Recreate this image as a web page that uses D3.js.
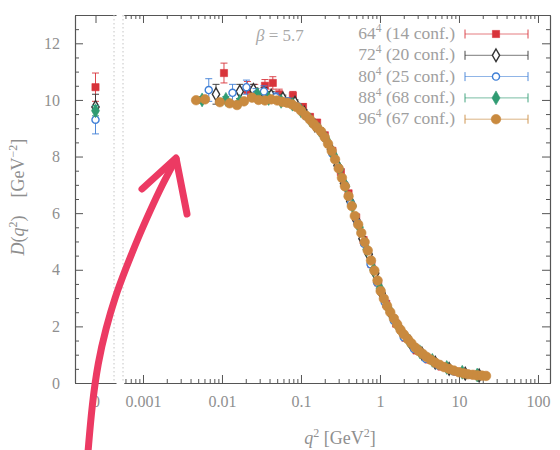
<!DOCTYPE html>
<html><head><meta charset="utf-8">
<script src="https://cdn.jsdelivr.net/npm/d3@7"></script>
<style>body{margin:0;background:#fff}</style>
</head><body><svg id="c" width="560" height="450"></svg>
<script>
// ---------------- data ----------------
const latticeSizes = ["64","72","80","88","96"];
const confCounts   = ["14","20","25","68","67"];

const q2_64  = [0.0106,0.021,0.026,0.035,0.044,0.053,0.079,0.106,0.13,0.16,0.2,0.25,0.32,0.4,0.5,0.62,0.78,0.95,1.2,1.6,2.1,2.9,4.1,6,9.5,15,21];
const D_64   = [10.95,10.35,10.3,10.5,10.6,10.2,10.15,9.75,9.4,9.2,8.75,8.2,7.45,6.7,5.85,5.05,4.2,3.55,2.8,2.1,1.6,1.15,0.83,0.58,0.4,0.29,0.26];
const err_64 = [0.35,0.3,0.25,0.22,0.22,0.18,0.15,0.12,0.1,0.1,0.08,0.08,0.06,0.06,0.05,0.05,0.04,0.04,0.03,0.03,0.02,0.02,0.02,0.01,0.01,0.01,0.01];

const q2_72  = [0.0084,0.0168,0.025,0.034,0.042,0.059,0.084,0.11,0.15,0.19,0.24,0.29,0.35,0.42,0.5,0.6,0.72,0.87,1.05,1.35,1.8,2.4,3.4,5,7.5,12,18];
const D_72   = [10.2,10.3,10.35,10.25,10.15,10.05,9.9,9.55,9.1,8.78,8.25,7.68,7.05,6.42,5.76,5.1,4.55,3.88,3.17,2.5,1.9,1.45,1.04,0.72,0.5,0.33,0.265];
const err_72 = [0.35,0.25,0.2,0.18,0.15,0.12,0.1,0.1,0.08,0.08,0.06,0.06,0.05,0.05,0.04,0.04,0.03,0.03,0.03,0.02,0.02,0.02,0.01,0.01,0.01,0.01,0.01];

const q2_80  = [0.0068,0.0136,0.0204,0.027,0.034,0.048,0.068,0.09,0.12,0.16,0.2,0.25,0.3,0.36,0.43,0.52,0.63,0.76,0.92,1.15,1.5,2.0,2.7,3.8,5.5,8.5,13,19];
const D_80   = [10.35,10.25,10.45,10.2,10.3,10.1,9.95,9.78,9.4,9.05,8.7,8.1,7.6,7.0,6.35,5.65,4.92,4.2,3.55,2.85,2.2,1.62,1.2,0.86,0.62,0.42,0.31,0.26];
const err_80 = [0.4,0.3,0.25,0.2,0.2,0.15,0.12,0.1,0.08,0.08,0.06,0.06,0.05,0.05,0.04,0.04,0.03,0.03,0.03,0.02,0.02,0.02,0.01,0.01,0.01,0.01,0.01,0.01];

const q2_88  = [0.0056,0.0112,0.0168,0.028,0.039,0.056,0.078,0.10,0.13,0.17,0.21,0.26,0.31,0.37,0.45,0.55,0.68,0.83,1.0,1.3,1.7,2.3,3.2,4.6,7,11,17];
const D_88   = [10.0,10.02,9.95,10.2,10.05,9.95,9.85,9.62,9.3,8.95,8.6,8.05,7.55,6.95,6.25,5.5,4.72,4.0,3.35,2.6,2.0,1.5,1.1,0.8,0.55,0.38,0.28];
const err_88 = [0.12,0.1,0.1,0.08,0.08,0.07,0.06,0.05,0.05,0.04,0.04,0.04,0.03,0.03,0.03,0.02,0.02,0.02,0.02,0.02,0.01,0.01,0.01,0.01,0.01,0.01,0.01];

const q2_96  = [0.0047,0.0061,0.0094,0.0125,0.0155,0.019,0.024,0.029,0.035,0.042,0.050,0.058,0.067,0.077,0.088,0.10,0.115,0.13,0.145,0.16,0.18,0.20,0.22,0.245,0.27,0.30,0.33,0.36,0.40,0.44,0.48,0.53,0.58,0.64,0.70,0.77,0.85,0.93,1.02,1.12,1.23,1.35,1.5,1.65,1.82,2.0,2.25,2.5,2.8,3.1,3.5,3.9,4.4,5.0,5.7,6.5,7.5,8.6,10,11.5,13,15,17,19.5,22];
const D_96   = [9.99,10.02,9.92,9.88,9.82,9.95,10.08,10.0,9.98,10.02,9.98,9.93,9.9,9.84,9.75,9.62,9.45,9.3,9.15,9.02,8.88,8.68,8.45,8.2,7.9,7.58,7.25,6.95,6.6,6.25,5.9,5.6,5.3,4.98,4.68,4.33,3.97,3.62,3.25,2.98,2.72,2.5,2.28,2.07,1.88,1.72,1.55,1.4,1.25,1.13,1.02,0.92,0.82,0.72,0.64,0.56,0.5,0.44,0.38,0.34,0.31,0.29,0.27,0.26,0.25];

// zero-momentum values D(0) per lattice (96^4 not shown)
const D0   = [10.45, 9.75, 9.3, 9.62, null];
const D0err = [0.5, 0.45, 0.5, 0.18, null];

const yTicks = [0,2,4,6,8,10,12];
const xTicks = [0.001,0.01,0.1,1,10,100];
const xTickLabels = ["0.001","0.01","0.1","1","10","100"];

// hand-drawn annotation arrow on the photo
const arrowShaft = [[88,452],[92,405],[98,362],[106,328],[115,297],[126,268],[138,238],[150,211],[162,185],[176,159]];
const arrowHead  = [[142,189],[176,158],[187,214]];

// ---------------- drawing ----------------
const svg = d3.select("#c");
const FONT = "'Liberation Serif','DejaVu Serif',serif";
const axisCol = "#555", textCol = "#8f8f8f";

const yTop = 15, yBot = 383;
const y  = d3.scaleLinear().domain([0,13]).range([yBot,yTop]);
const xL = d3.scaleLinear().domain([-1,1]).range([75,116]);
const xM = d3.scaleLog().domain([5.75e-4,142]).range([124,550]);

const colors  = ["#d8333a","#333333","#3f7fd6","#2f9b72","#c98a3f"];
const symbols = [d3.symbolSquare, d3.symbolDiamond, d3.symbolCircle, d3.symbolDiamond, d3.symbolCircle];
const sizes   = [52, 46, 40, 56, 72];
const filled  = [true, false, false, true, true];

function styleAxis(g){
  g.select(".domain").attr("stroke",axisCol).attr("stroke-width",1.1);
  g.selectAll(".tick line").attr("stroke",axisCol).attr("stroke-width",1);
  g.selectAll(".tick text").attr("fill",textCol).attr("font-family",FONT).attr("font-size",16);
}

// main panel axes
const minorX = xM.ticks().filter(d => !xTicks.some(t => Math.abs(t-d)/t < 1e-6));
svg.append("g").attr("transform",`translate(0,${yBot})`)
  .call(d3.axisBottom(xM).tickValues(xTicks).tickFormat((d,i)=>xTickLabels[i]).tickSizeInner(-8).tickSizeOuter(0).tickPadding(13))
  .call(styleAxis);
svg.append("g").attr("transform",`translate(0,${yBot})`)
  .call(d3.axisBottom(xM).tickValues(minorX).tickFormat("").tickSizeInner(-4).tickSizeOuter(0))
  .call(styleAxis);
svg.append("g").attr("transform",`translate(0,${yTop})`)
  .call(d3.axisTop(xM).tickValues(xTicks).tickFormat("").tickSizeInner(-8).tickSizeOuter(0))
  .call(styleAxis);
svg.append("g").attr("transform",`translate(0,${yTop})`)
  .call(d3.axisTop(xM).tickValues(minorX).tickFormat("").tickSizeInner(-4).tickSizeOuter(0))
  .call(styleAxis);

const minorY = d3.range(0,13.01,0.5).filter(v => v%2 !== 0);
svg.append("g").attr("transform",`translate(550,0)`)
  .call(d3.axisRight(y).tickValues(yTicks).tickFormat("").tickSizeInner(-8).tickSizeOuter(0))
  .call(styleAxis);
svg.append("g").attr("transform",`translate(550,0)`)
  .call(d3.axisRight(y).tickValues(minorY).tickFormat("").tickSizeInner(-4).tickSizeOuter(0))
  .call(styleAxis);

// left (q^2 = 0) panel axes
svg.append("g").attr("transform",`translate(0,${yBot})`)
  .call(d3.axisBottom(xL).tickValues([0]).tickFormat(()=>"0").tickSizeInner(-8).tickSizeOuter(0).tickPadding(13))
  .call(styleAxis);
svg.append("g").attr("transform",`translate(0,${yTop})`)
  .call(d3.axisTop(xL).tickValues([0]).tickFormat("").tickSizeInner(-8).tickSizeOuter(0))
  .call(styleAxis);
svg.append("g").attr("transform",`translate(75,0)`)
  .call(d3.axisLeft(y).tickValues(yTicks).tickSizeInner(-8).tickSizeOuter(0).tickPadding(15))
  .call(styleAxis);
svg.append("g").attr("transform",`translate(75,0)`)
  .call(d3.axisLeft(y).tickValues(minorY).tickFormat("").tickSizeInner(-4).tickSizeOuter(0))
  .call(styleAxis);

// dotted break lines
[xL.range()[1]-2, xM.range()[0]-1].forEach(xx=>{
  svg.append("line").attr("x1",xx).attr("x2",xx).attr("y1",yTop).attr("y2",yBot)
    .attr("stroke","#c4c4c4").attr("stroke-width",1).attr("stroke-dasharray","1.5,2.5");
});

// data
const allQ = [q2_64,q2_72,q2_80,q2_88,q2_96];
const allD = [D_64,D_72,D_80,D_88,D_96];
const allE = [err_64,err_72,err_80,err_88,null];

function drawPoint(g, cx, cy, i){
  g.append("path").attr("d", d3.symbol().type(symbols[i]).size(sizes[i])())
    .attr("transform",`translate(${cx},${cy})`)
    .attr("fill", filled[i] ? colors[i] : "#fff")
    .attr("stroke", colors[i]).attr("stroke-width", filled[i] ? 0.6 : 1.4);
}
function drawErr(g, cx, v, e, col){
  const y1 = y(v+e), y2 = y(v-e);
  g.append("line").attr("x1",cx).attr("x2",cx).attr("y1",y1).attr("y2",y2).attr("stroke",col).attr("stroke-width",0.9);
  [y1,y2].forEach(yy=>g.append("line").attr("x1",cx-3.5).attr("x2",cx+3.5).attr("y1",yy).attr("y2",yy).attr("stroke",col).attr("stroke-width",0.9));
}

const dataG = svg.append("g");
for (let i=0;i<5;i++){
  const g = dataG.append("g");
  const q = allQ[i], D = allD[i], E = allE[i];
  q.forEach((qq,k)=>{
    if (E && E[k] > 0.06) drawErr(g, xM(qq), D[k], E[k], colors[i]);
  });
  if (D0[i] !== null){
    drawErr(g, xL(0), D0[i], D0err[i], colors[i]);
    drawPoint(g, xL(0), y(D0[i]), i);
  }
  q.forEach((qq,k)=> drawPoint(g, xM(qq), y(D[k]), i));
}

// beta label
svg.append("text").attr("x",256).attr("y",41).attr("font-family",FONT).attr("font-size",17).attr("fill","#a8a8a8")
  .html('<tspan font-style="italic">β</tspan> = 5.7');

// legend
latticeSizes.forEach((n,i)=>{
  const ly = 34 + i*21.3;
  const t = svg.append("text").attr("x",455).attr("y",ly+5).attr("text-anchor","end")
    .attr("font-family",FONT).attr("font-size",17.5).attr("fill","#a0a0a0");
  t.append("tspan").text(n);
  t.append("tspan").attr("dy",-7).attr("font-size",11.5).text("4");
  t.append("tspan").attr("dy",7).text(` (${confCounts[i]} conf.)`);
  const lg = svg.append("g");
  lg.append("line").attr("x1",465).attr("x2",528).attr("y1",ly).attr("y2",ly).attr("stroke",colors[i]).attr("stroke-width",0.8).attr("opacity",0.8);
  [465,528].forEach(xx=>lg.append("line").attr("x1",xx).attr("x2",xx).attr("y1",ly-4.5).attr("y2",ly+4.5).attr("stroke",colors[i]).attr("stroke-width",0.9));
  drawPoint(lg, 496, ly, i);
});

// axis titles
svg.append("text").attr("x",340).attr("y",444).attr("text-anchor","middle").attr("font-family",FONT).attr("font-size",18).attr("fill",textCol)
  .html('<tspan font-style="italic">q</tspan><tspan dy="-7" font-size="12">2</tspan><tspan dy="7"> [GeV</tspan><tspan dy="-7" font-size="12">2</tspan><tspan dy="7">]</tspan>');
svg.append("text").attr("transform","translate(24,197) rotate(-90)").attr("text-anchor","middle").attr("font-family",FONT).attr("font-size",18).attr("fill",textCol)
  .attr("xml:space","preserve")
  .html('<tspan font-style="italic">D</tspan>(<tspan font-style="italic">q</tspan><tspan dy="-7" font-size="12">2</tspan><tspan dy="7">)\u00a0\u00a0\u00a0\u00a0[GeV</tspan><tspan dy="-7" font-size="12">−2</tspan><tspan dy="7">]</tspan>');

// annotation arrow
const ag = svg.append("g").attr("fill","none").attr("stroke","#ec3a63").attr("stroke-width",7)
  .attr("stroke-linecap","round").attr("stroke-linejoin","round");
ag.append("path").attr("d", d3.line().curve(d3.curveBasis)(arrowShaft));
ag.append("path").attr("d", d3.line()(arrowHead));
</script></body></html>
